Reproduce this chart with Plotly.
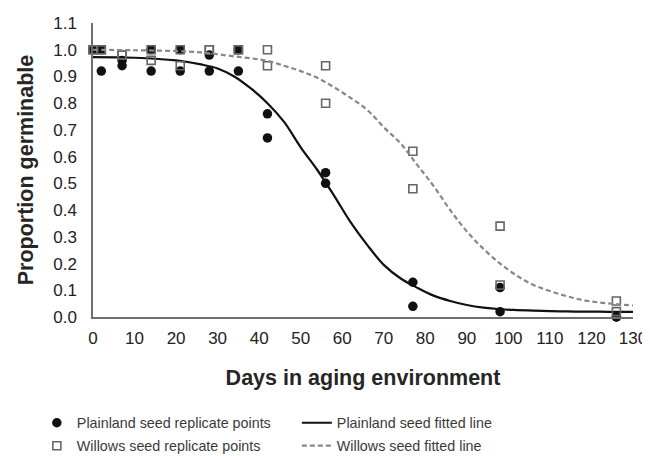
import plotly.graph_objects as go

days = [0, 2, 7, 14, 21, 28, 35, 42, 56, 77, 98, 126]
plainland_rep1 = [1.0, 1.0, 0.96, 1.0, 1.0, 0.98, 1.0, 0.76, 0.54, 0.13, 0.11, 0.0]
plainland_rep2 = [1.0, 0.92, 0.94, 0.92, 0.92, 0.92, 0.92, 0.67, 0.50, 0.04, 0.02, 0.0]
willows_rep1 = [1.0, 1.0, 0.98, 1.0, 1.0, 1.0, 1.0, 1.0, 0.94, 0.62, 0.34, 0.06]
willows_rep2 = [1.0, 1.0, 0.98, 0.96, 0.94, 1.0, 1.0, 0.94, 0.80, 0.48, 0.12, 0.02]

fit_days = [0, 10, 20, 26, 30, 34, 38, 42, 46, 50, 54, 58, 62, 66, 70, 74, 78,
            82, 86, 90, 94, 98, 102, 106, 110, 114, 118, 122, 126, 130]
plainland_fit = [0.972, 0.97, 0.96, 0.945, 0.93, 0.90, 0.855, 0.80, 0.73, 0.635,
                 0.55, 0.455, 0.355, 0.27, 0.195, 0.145, 0.11, 0.08, 0.06, 0.045,
                 0.035, 0.029, 0.026, 0.024, 0.022, 0.021, 0.02, 0.02, 0.019, 0.019]
willows_fit = [1.0, 0.998, 0.995, 0.99, 0.983, 0.975, 0.968, 0.958, 0.94, 0.92,
               0.895, 0.86, 0.82, 0.775, 0.71, 0.65, 0.57, 0.49, 0.40, 0.32,
               0.255, 0.20, 0.155, 0.12, 0.097, 0.078, 0.063, 0.054, 0.048, 0.043]

font = "Arial, Liberation Sans, sans-serif"

fig = go.Figure()
fig.add_trace(go.Scatter(
    x=days + days, y=plainland_rep1 + plainland_rep2, mode="markers",
    name="Plainland seed replicate points", legend="legend",
    marker=dict(symbol="circle", size=9.5, color="#111111"), cliponaxis=False))
fig.add_trace(go.Scatter(
    x=fit_days, y=plainland_fit, mode="lines", line_shape="spline",
    name="Plainland seed fitted line", legend="legend",
    line=dict(color="#111111", width=2.2)))
fig.add_trace(go.Scatter(
    x=days + days, y=willows_rep1 + willows_rep2, mode="markers",
    name="Willows seed replicate points", legend="legend2",
    marker=dict(symbol="square-open", size=8, color="#666666", line=dict(width=1.6)),
    cliponaxis=False))
fig.add_trace(go.Scatter(
    x=fit_days, y=willows_fit, mode="lines", line_shape="spline",
    name="Willows seed fitted line", legend="legend2",
    line=dict(color="#888888", width=2.2, dash="5px,3px")))

legend_style = dict(orientation="h", xanchor="left", yanchor="top",
                    entrywidth=215, bgcolor="rgba(0,0,0,0)",
                    font=dict(family=font, size=14.3, color="#3a3a3a"))

# page body adds an 8px offset, so the figure is sized to fit the window
fig.update_layout(
    width=642, height=448,
    margin=dict(l=85, r=17, t=15, b=139, autoexpand=False),
    paper_bgcolor="white", plot_bgcolor="white",
    font=dict(family=font, color="#222222"),
    showlegend=True,
    legend=dict(x=-0.104, y=-0.306, **legend_style),
    legend2=dict(x=-0.104, y=-0.384, **legend_style),
)
fig.update_xaxes(
    range=[0, 130], dtick=10, showgrid=False, zeroline=False,
    showline=True, linecolor="#6e6e6e", linewidth=1.5, ticks="",
    ticklabelstandoff=5, tickfont=dict(size=17, color="#222222"),
    title=dict(text="<b>Days in aging environment</b>", standoff=23,
               font=dict(size=21.5, color="#262626")))
fig.update_yaxes(
    range=[0, 1.1], dtick=0.1, tickformat=".1f", showgrid=False, zeroline=False,
    showline=True, linecolor="#6e6e6e", linewidth=1.5, ticks="",
    ticklabelstandoff=11, tickfont=dict(size=17, color="#222222"),
    title=dict(text="<b>Proportion germinable</b>", standoff=14,
               font=dict(size=21.5, color="#262626")))

fig.write_html("out.html")
